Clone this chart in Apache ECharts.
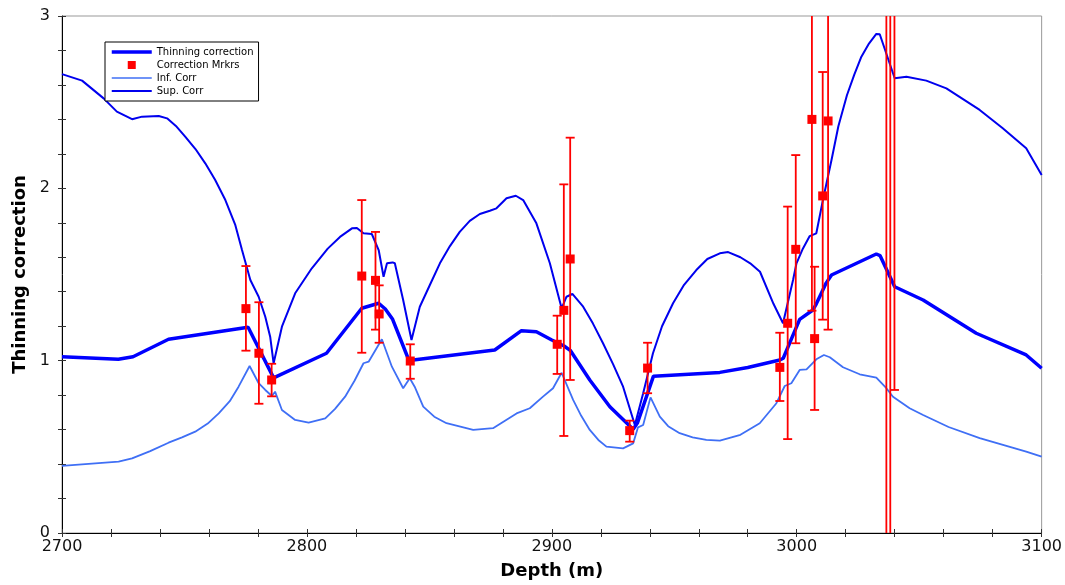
<!DOCTYPE html>
<html>
<head>
<meta charset="utf-8">
<script src="https://cdn.jsdelivr.net/npm/echarts@6/dist/echarts.min.js"></script>
<style>
  html, body { margin: 0; padding: 0; background: #fff; }
  #chart { width: 1065px; height: 585px; }
</style>
</head>
<body>
<div id="chart"></div>
<script>
// ---- Data ----
const thinDepth = [2700, 2723, 2729, 2743.5, 2776, 2786.4, 2808, 2822.4, 2829.3, 2832, 2835, 2841.3, 2843.4, 2876.7, 2887.6, 2893.7, 2900, 2905, 2907.5, 2915.5, 2923.7, 2933.2, 2935, 2941.5, 2968.6, 2980, 2993.1, 2994.5, 3001.2, 3006.6, 3008, 3010, 3012, 3014.2, 3032.5, 3034, 3040, 3051.6, 3073.3, 3093.7, 3100];
const thinValue = [1.023, 1.008, 1.023, 1.124, 1.194, 0.900, 1.043, 1.304, 1.333, 1.300, 1.240, 1.014, 1.004, 1.062, 1.174, 1.168, 1.120, 1.085, 1.060, 0.888, 0.733, 0.602, 0.640, 0.910, 0.932, 0.960, 1.004, 1.014, 1.240, 1.294, 1.330, 1.390, 1.450, 1.497, 1.619, 1.610, 1.429, 1.352, 1.159, 1.033, 0.956];

const supDepth = [2700, 2708.2, 2717, 2722.4, 2728.6, 2732.7, 2739.5, 2742.9, 2746.5, 2750.3, 2754.5, 2758.5, 2762.5, 2766.7, 2770.7, 2773.5, 2776.9, 2780.3, 2783, 2785, 2786.4, 2789.8, 2795.2, 2802, 2808.5, 2813.5, 2818.4, 2820.4, 2823.1, 2826.5, 2829.3, 2831.3, 2832.7, 2835, 2835.9, 2839.3, 2842.7, 2846.1, 2850.2, 2854.3, 2858.4, 2862.4, 2866.5, 2870.6, 2874.7, 2877.4, 2881.5, 2885.3, 2888.3, 2893.7, 2899.2, 2904, 2906, 2908.4, 2912.8, 2916.8, 2920.9, 2925, 2929.1, 2933.9, 2937.3, 2941.3, 2945, 2949.5, 2954, 2959, 2963.5, 2968.6, 2972, 2977, 2981, 2985, 2990.5, 2994.4, 2998.5, 2999.9, 3002.5, 3005.3, 3008, 3010.7, 3014.2, 3017, 3020.5, 3023.5, 3026.4, 3029.5, 3032.5, 3033.9, 3040, 3044.8, 3052.9, 3061.1, 3074.7, 3084, 3093.7, 3100];
const supValue = [2.663, 2.625, 2.522, 2.445, 2.401, 2.416, 2.420, 2.406, 2.362, 2.300, 2.228, 2.145, 2.050, 1.932, 1.790, 1.642, 1.468, 1.371, 1.255, 1.139, 0.985, 1.197, 1.391, 1.536, 1.650, 1.718, 1.768, 1.770, 1.739, 1.735, 1.642, 1.487, 1.565, 1.570, 1.565, 1.352, 1.120, 1.313, 1.439, 1.565, 1.665, 1.747, 1.811, 1.851, 1.870, 1.884, 1.942, 1.957, 1.932, 1.797, 1.565, 1.304, 1.371, 1.387, 1.313, 1.215, 1.101, 0.980, 0.849, 0.627, 0.811, 1.043, 1.200, 1.333, 1.440, 1.526, 1.590, 1.623, 1.630, 1.600, 1.565, 1.516, 1.330, 1.217, 1.468, 1.565, 1.650, 1.723, 1.739, 1.932, 2.164, 2.360, 2.540, 2.660, 2.764, 2.840, 2.896, 2.894, 2.639, 2.648, 2.625, 2.580, 2.455, 2.350, 2.232, 2.077];

const infDepth = [2700, 2723.1, 2728.6, 2736, 2743.5, 2749, 2754.4, 2759.5, 2764, 2768.5, 2772.1, 2776.6, 2780.3, 2783, 2785.7, 2787, 2789.8, 2795.2, 2800.7, 2807.5, 2811.5, 2815.6, 2819.5, 2823.1, 2825.2, 2830.6, 2834.7, 2839.3, 2842, 2844, 2847.5, 2852, 2857, 2867.9, 2876, 2885.6, 2891, 2896.4, 2900.5, 2904, 2908.7, 2912, 2915.5, 2919, 2922.3, 2929.1, 2933.2, 2935.2, 2937.3, 2940.3, 2944.1, 2947.5, 2952.2, 2957.5, 2963.1, 2968.6, 2977, 2984.9, 2991.7, 2995.1, 2997.8, 3001.2, 3004, 3008, 3011.1, 3013.5, 3018.9, 3025.7, 3032.5, 3036.6, 3039.3, 3046.1, 3051.6, 3062, 3074.7, 3093.7, 3100];
const infValue = [0.389, 0.414, 0.433, 0.475, 0.524, 0.555, 0.588, 0.635, 0.694, 0.765, 0.849, 0.969, 0.869, 0.830, 0.795, 0.820, 0.714, 0.656, 0.640, 0.665, 0.720, 0.791, 0.885, 0.985, 0.994, 1.124, 0.965, 0.840, 0.898, 0.849, 0.733, 0.675, 0.637, 0.598, 0.608, 0.694, 0.724, 0.791, 0.840, 0.930, 0.772, 0.680, 0.598, 0.540, 0.501, 0.491, 0.520, 0.613, 0.627, 0.787, 0.675, 0.620, 0.579, 0.555, 0.540, 0.536, 0.570, 0.637, 0.753, 0.853, 0.869, 0.946, 0.950, 1.008, 1.033, 1.020, 0.962, 0.921, 0.901, 0.840, 0.791, 0.724, 0.685, 0.615, 0.550, 0.472, 0.443];

const mrkDepth = [2775.1, 2780.4, 2785.6, 2822.4, 2828.0, 2829.5, 2842.2, 2902.2, 2904.9, 2907.5, 2931.8, 2939.1, 2993.1, 2996.3, 2999.6, 3006.2, 3007.3, 3010.6, 3012.8, 3036.6, 3038.2, 3039.9];
const mrkValue = [1.302, 1.043, 0.888, 1.491, 1.466, 1.271, 0.998, 1.095, 1.292, 1.590, 0.594, 0.957, 0.961, 1.217, 1.646, 2.400, 1.128, 1.956, 2.391, 3.6, 3.5, 3.4];
const mrkLow   = [1.058, 0.750, 0.793, 1.046, 1.180, 1.104, 0.895, 0.923, 0.563, 0.888, 0.530, 0.811, 0.766, 0.545, 1.101, 1.290, 0.714, 1.238, 1.180, -0.5, -0.4, 0.83];
const mrkHigh  = [1.549, 1.339, 0.982, 1.932, 1.747, 1.437, 1.095, 1.261, 2.023, 2.294, 0.652, 1.104, 1.162, 1.894, 2.193, 3.5, 1.545, 2.675, 3.6, 6.0, 6.0, 6.0];

const xTicks = { min: 2700, max: 3100, minor: 20 };
const yTicks = { min: 0, max: 3, minor: 0.2 };

// ---- Build ----
const zip = (a, b) => a.map((v, i) => [v, b[i]]);
const FONT = 'DejaVu Sans';

const chart = echarts.init(document.getElementById('chart'), null, { renderer: 'canvas' });

function errorBar(params, api) {
  const x = api.value(0), lo = api.value(1), hi = api.value(2);
  const pLo = api.coord([x, lo]);
  const pHi = api.coord([x, hi]);
  const cs = params.coordSys;
  const top = Math.max(pHi[1], cs.y);
  const bot = Math.min(pLo[1], cs.y + cs.height);
  const style = { stroke: '#ff0000', lineWidth: 1.8 };
  const children = [];
  if (bot > top) {
    children.push({ type: 'line', shape: { x1: pLo[0], y1: top, x2: pLo[0], y2: bot }, style });
  }
  const hw = 4.5;
  if (pHi[1] >= cs.y && pHi[1] <= cs.y + cs.height) {
    children.push({ type: 'line', shape: { x1: pHi[0] - hw, y1: pHi[1], x2: pHi[0] + hw, y2: pHi[1] }, style });
  }
  if (pLo[1] >= cs.y && pLo[1] <= cs.y + cs.height) {
    children.push({ type: 'line', shape: { x1: pLo[0] - hw, y1: pLo[1], x2: pLo[0] + hw, y2: pLo[1] }, style });
  }
  return { type: 'group', children };
}

const isInt = v => Math.abs(v - Math.round(v)) < 1e-6;
const squareIcon = 'path://M0,0 L0.01,0 L0.01,0.01 Z M40,10 L39.99,10 L39.99,9.99 Z M16,1 L24,1 L24,9 L16,9 Z';

const option = {
  animation: false,
  backgroundColor: '#ffffff',
  textStyle: { fontFamily: FONT },
  grid: { left: 62, right: 23, top: 16, bottom: 52, show: true, borderColor: '#999999', borderWidth: 1, backgroundColor: 'transparent' },
  legend: {
    orient: 'vertical',
    left: 105, top: 42,
    padding: [5, 5],
    itemWidth: 40, itemHeight: 10, itemGap: 3,
    backgroundColor: '#ffffff',
    borderColor: '#000000', borderWidth: 1, borderRadius: 0,
    textStyle: { fontFamily: FONT, fontSize: 10, color: '#000', lineHeight: 10 },
    data: [
      { name: 'Thinning correction', itemStyle: { opacity: 0 }, lineStyle: { width: 3.5, color: '#0000ff' } },
      { name: 'Correction Mrkrs', icon: squareIcon },
      { name: 'Inf. Corr', itemStyle: { opacity: 0 }, lineStyle: { width: 1.5, color: '#3f6ff5' } },
      { name: 'Sup. Corr', itemStyle: { opacity: 0 }, lineStyle: { width: 2, color: '#0000ee' } }
    ]
  },
  xAxis: [
    {
      type: 'value', min: xTicks.min, max: xTicks.max, interval: xTicks.minor,
      position: 'bottom',
      name: 'Depth (m)', nameLocation: 'middle', nameGap: 29,
      nameTextStyle: { fontFamily: FONT, fontSize: 18, fontWeight: 'bold', color: '#000' },
      axisLine: { show: true, lineStyle: { color: '#000', width: 1 } },
      axisTick: { show: true, length: 4, lineStyle: { color: '#333' } },
      axisLabel: { margin: 6, fontFamily: FONT, fontSize: 16, color: '#111', formatter: v => (Math.round(v) % 100 === 0 ? String(Math.round(v)) : ''), showMinLabel: true, showMaxLabel: true },
      splitLine: { show: false }
    },
    {
      type: 'value', min: xTicks.min, max: xTicks.max, interval: xTicks.minor,
      position: 'bottom', offset: 0,
      axisLine: { show: false },
      axisTick: { show: true, inside: true, length: 4, lineStyle: { color: '#333' } },
      axisLabel: { show: false },
      splitLine: { show: false }
    }
  ],
  yAxis: [
    {
      type: 'value', min: yTicks.min, max: yTicks.max, interval: yTicks.minor,
      position: 'left',
      name: 'Thinning correction', nameLocation: 'middle', nameGap: 33, nameRotate: 90,
      nameTextStyle: { fontFamily: FONT, fontSize: 18, fontWeight: 'bold', color: '#000' },
      axisLine: { show: true, lineStyle: { color: '#000', width: 1 } },
      axisTick: { show: true, length: 4, lineStyle: { color: '#333' } },
      axisLabel: { margin: 12, fontFamily: FONT, fontSize: 16, color: '#111', formatter: v => (isInt(v) ? String(Math.round(v)) : '') },
      splitLine: { show: false }
    },
    {
      type: 'value', min: yTicks.min, max: yTicks.max, interval: yTicks.minor,
      position: 'left', offset: 0,
      axisLine: { show: false },
      axisTick: { show: true, inside: true, length: 4, lineStyle: { color: '#333' } },
      axisLabel: { show: false },
      splitLine: { show: false }
    }
  ],
  series: [
    {
      name: 'Thinning correction', type: 'line', data: zip(thinDepth, thinValue),
      symbol: 'none', showSymbol: false, z: 3,
      lineStyle: { color: '#0000ff', width: 3.5 }, itemStyle: { color: '#0000ff' }
    },
    {
      name: 'Inf. Corr', type: 'line', data: zip(infDepth, infValue),
      symbol: 'none', showSymbol: false, z: 2,
      lineStyle: { color: '#3f6ff5', width: 1.8 }, itemStyle: { color: '#3f6ff5' }
    },
    {
      name: 'Sup. Corr', type: 'line', data: zip(supDepth, supValue),
      symbol: 'none', showSymbol: false, z: 2,
      lineStyle: { color: '#0000ee', width: 2 }, itemStyle: { color: '#0000ee' }
    },
    {
      name: 'errbars', type: 'custom', renderItem: errorBar, z: 4,
      data: mrkDepth.map((d, i) => [d, mrkLow[i], mrkHigh[i]]),
      encode: { x: 0, y: [1, 2] }
    },
    {
      name: 'Correction Mrkrs', type: 'scatter', data: zip(mrkDepth, mrkValue),
      symbol: 'rect', symbolSize: 9, z: 5, clip: true,
      itemStyle: { color: '#ff0000', opacity: 1 }
    }
  ]
};

chart.setOption(option);
</script>
</body>
</html>
